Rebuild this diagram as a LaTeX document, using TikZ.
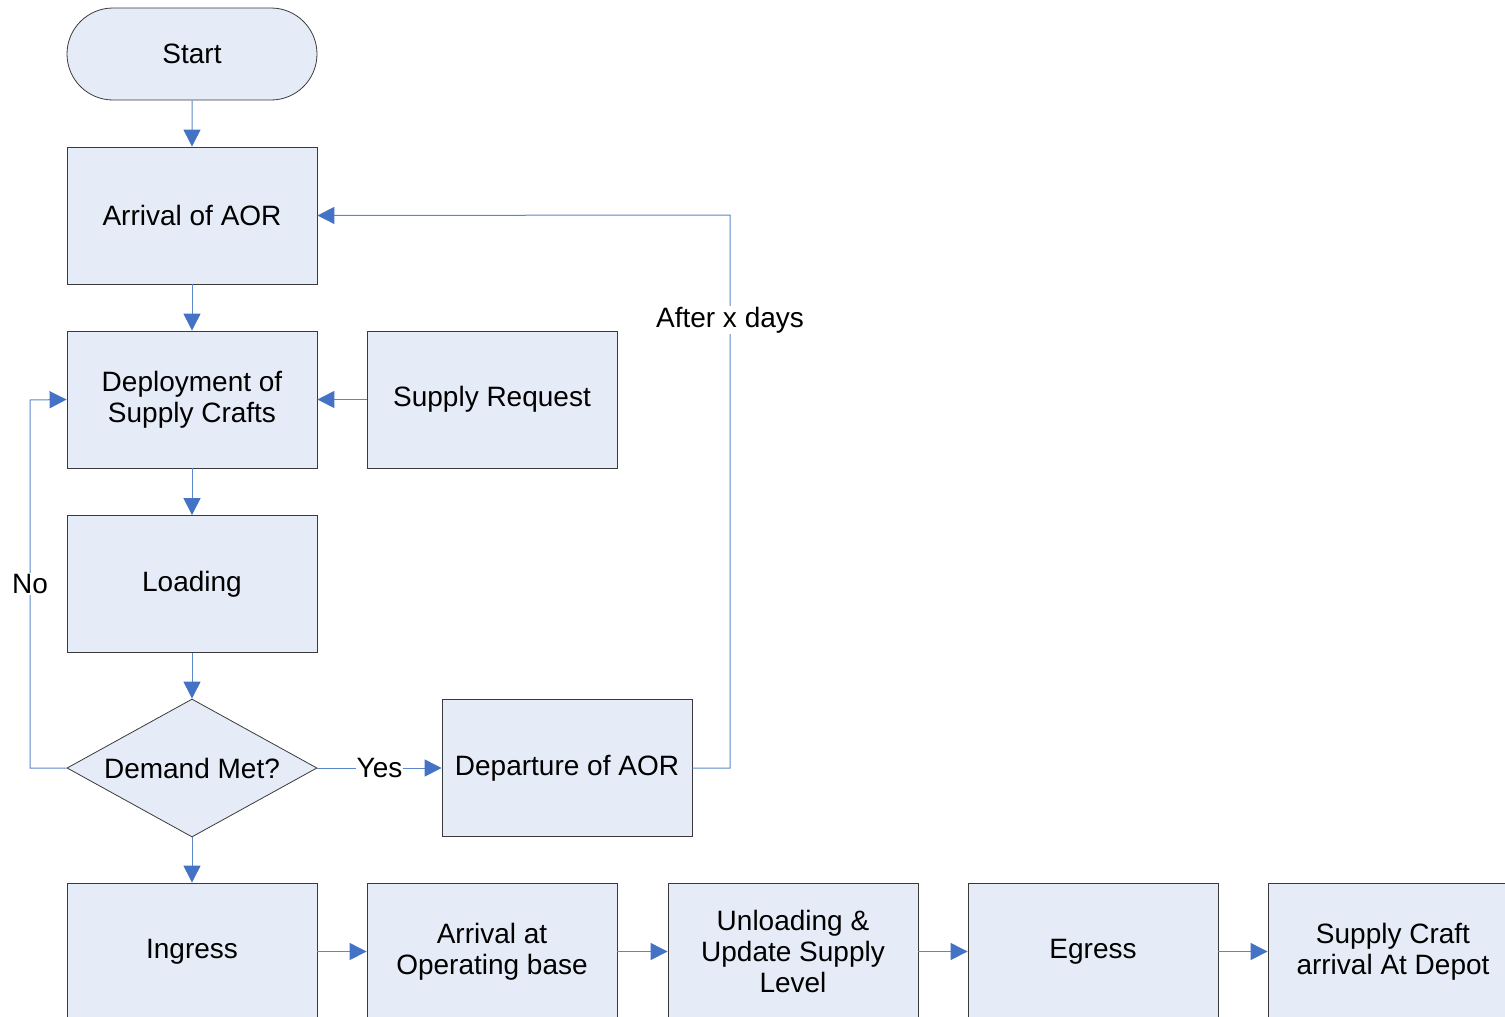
\documentclass[tikz,border=0pt]{standalone}
\usepackage{fontspec}
\setmainfont{Liberation Sans}
\usetikzlibrary{arrows.meta,shapes.geometric,shapes.misc}
\definecolor{boxfill}{HTML}{E6ECF7}
\definecolor{boxline}{HTML}{3A3A3A}
\definecolor{conn}{HTML}{5B88C9}
\definecolor{tipc}{HTML}{4472C4}
\begin{document}
\begin{tikzpicture}[x=1pt,y=-1pt,
  every node/.style={font=\fontsize{28}{31}\selectfont, text=black},
  stepbox/.style={rectangle, draw=boxline, line width=0.8pt, fill=boxfill, minimum width=250pt, minimum height=137pt, align=center, inner sep=0pt},
  termbox/.style={rounded rectangle, draw=boxline, line width=0.8pt, fill=boxfill, minimum width=250pt, minimum height=92pt, inner sep=0pt},
  decbox/.style={diamond, draw=boxline, line width=0.8pt, fill=boxfill, minimum width=250pt, minimum height=138pt, aspect=1.8, inner sep=0pt},
  flow/.style={draw=conn, line width=1pt, -{Triangle[width=17pt,length=17pt,fill=tipc,color=tipc]}},
  plain/.style={draw=conn, line width=1pt},
  lbl/.style={fill=white, inner sep=1pt}]
\useasboundingbox (0,0) rectangle (1505,1017);
\clip (0,0) rectangle (1505,1017);
\node[termbox] (start) at (192,54) {Start};
\node[stepbox] (arr) at (192,215.5) {Arrival of AOR};
\node[stepbox] (dep) at (192,399.5) {Deployment of\\Supply Crafts};
\node[stepbox] (req) at (492,399.5) {Supply Request};
\node[stepbox] (load) at (192,584) {Loading};
\node[decbox] (dem) at (192,768) {Demand Met?};
\node[stepbox] (depart) at (567,768) {Departure of AOR};
\node[stepbox] (ing) at (192,951.5) {Ingress};
\node[stepbox] (aob) at (492,951.5) {Arrival at\\Operating base};
\node[stepbox] (unl) at (793,951.5) {Unloading \&\\Update Supply\\Level};
\node[stepbox] (egr) at (1093,951.5) {Egress};
\node[stepbox] (sca) at (1393,951.5) {Supply Craft\\arrival At Depot};
\coordinate (fbR) at (730,768);
\coordinate (fbT) at (730,215);
\coordinate (noB) at (30,768);
\coordinate (noT) at (30,400);
\draw[flow] (start) -- (arr);
\draw[flow] (arr) -- (dep);
\draw[flow] (req) -- (dep);
\draw[flow] (dep) -- (load);
\draw[flow] (load) -- (dem);
\draw[flow] (dem) -- (ing);
\draw[flow] (dem) -- node[lbl] {Yes} (depart);
\draw[flow] (depart.east) -- (fbR) -- node[lbl, pos=0.81] {After x days} (fbT) -- (arr.east);
\draw[flow] (dem.west) -- (noB) -- node[lbl, pos=0.5] {No} (noT) -- (dep.west);
\draw[flow] (ing) -- (aob);
\draw[flow] (aob) -- (unl);
\draw[flow] (unl) -- (egr);
\draw[flow] (egr) -- (sca);
\end{tikzpicture}
\end{document}
